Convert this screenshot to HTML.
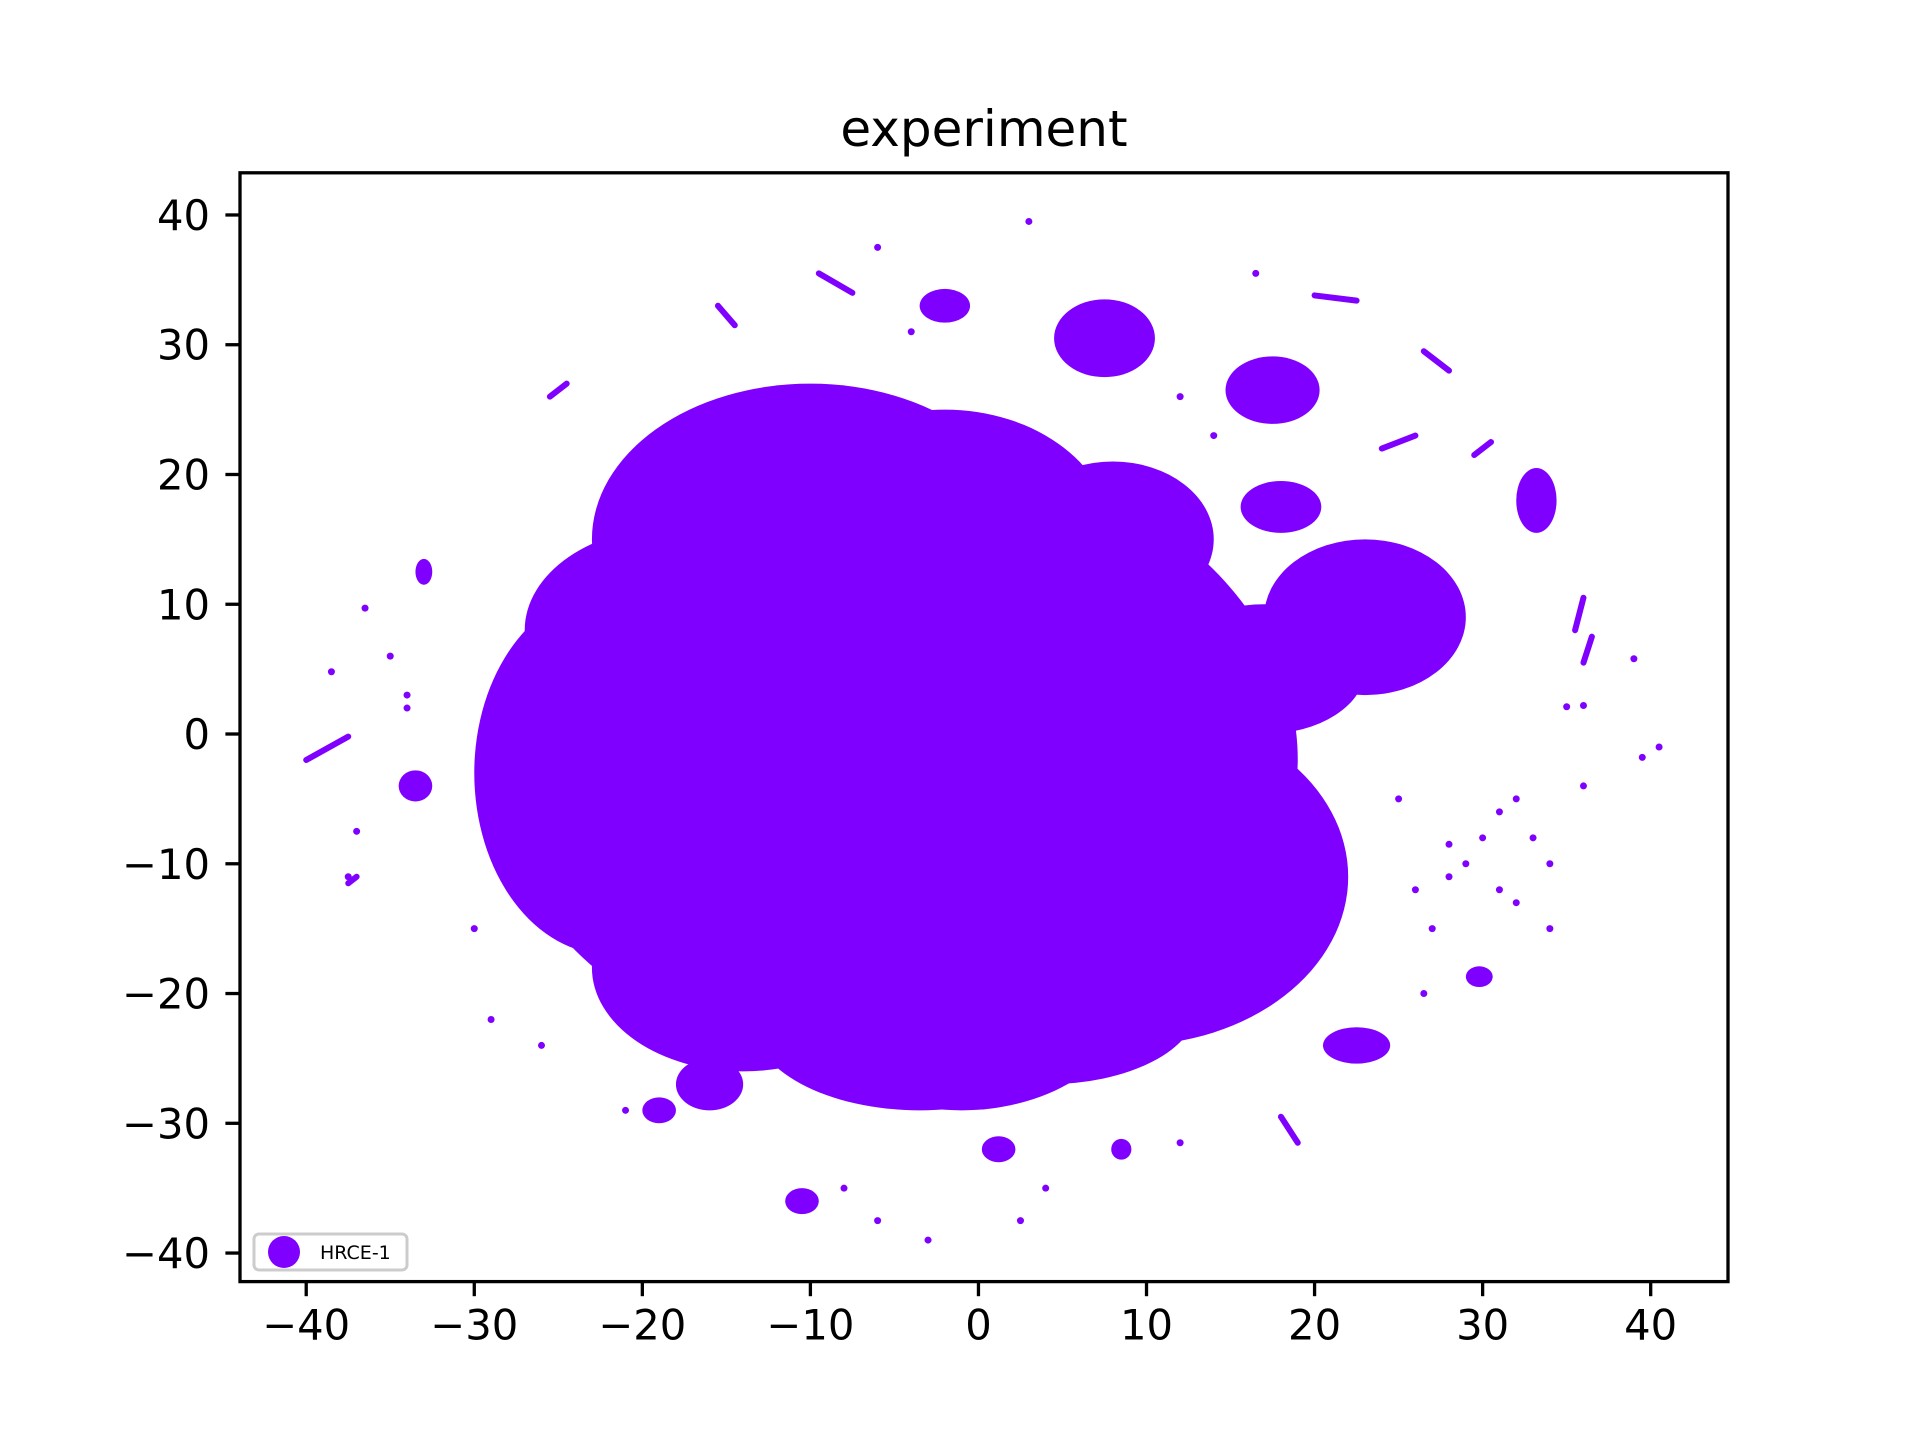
<!DOCTYPE html>
<html><head><meta charset="utf-8">
<style>
html,body{margin:0;padding:0;background:#fff;}
svg{display:block;font-family:"DejaVu Sans","Liberation Sans",sans-serif;}
</style></head>
<body>
<svg id="chart" width="1920" height="1440" viewBox="0 0 1920 1440" xmlns="http://www.w3.org/2000/svg">
<rect x="0" y="0" width="1920" height="1440" fill="#fff"/>
<text x="984" y="146" font-size="50" text-anchor="middle" fill="#000">experiment</text>
<g id="plot"></g>
<rect x="240" y="172.8" width="1488" height="1108.8" fill="none" stroke="#000" stroke-width="3.3"/>
<g id="ticks"></g>
<g>
<rect x="254" y="1234" width="153" height="36" rx="5" fill="#fff" stroke="#ccc" stroke-width="3"/>
<circle cx="284" cy="1252" r="16" fill="#8000ff"/>
<text x="320" y="1259" font-size="19" fill="#000">HRCE-1</text>
</g>
</svg>
<script>
// Blob regions of the embedding (data units)
const blobX  = [-5, -10, -2, 9, -1, 6, 8, 23, 17, -22, -18, 4, -14, 7.5, 17.5, 18, 33.2, -2, -16, -19, 22.5, 29.8, 1.2, -10.5, 8.5, -33.5, -33, -3.5, -6];
const blobY  = [-2, 15, 15, -11, -20, 4, 15, 9, 5, -3, 8, -21, -18, 30.5, 26.5, 17.5, 18, 33, -27, -29, -24, -18.7, -32, -36, -32, -4, 12.5, -22, 10];
const blobRX = [24, 13, 10, 13, 10, 9, 6, 6, 6, 8, 9, 9, 9, 3, 2.8, 2.4, 1.2, 1.5, 2, 1, 2, 0.8, 1, 1, 0.6, 1, 0.5, 10, 12];
const blobRY = [24, 12, 10, 13, 9, 10, 6, 6, 5, 14, 8, 6, 8, 3, 2.6, 2, 2.5, 1.3, 2, 1, 1.4, 0.8, 1, 1, 0.8, 1.2, 1, 7, 10];
// Thin trails (start/end points)
const trailX1 = [-40, -25.5, -15.5, -9.5, 20, 26.5, 30.5, 36, 36.5, 24, -37, 18];
const trailY1 = [-2, 26, 33, 35.5, 33.8, 29.5, 22.5, 10.5, 7.5, 22, -11, -29.5];
const trailX2 = [-37.5, -24.5, -14.5, -7.5, 22.5, 28, 29.5, 35.5, 36, 26, -37.5, 19];
const trailY2 = [-0.2, 27, 31.5, 34, 33.4, 28, 21.5, 8, 5.5, 23, -11.5, -31.5];
// Scattered outlier points
const ptX = [3, -6, -38.5, -36.5, -37, -37.5, 40.5, 39.5, 39, 36, 35, 32, 30, 28, 26, 27, 29, 31, 33, 34, 36, 31, 32, 28, 26.5, 25, 34, -29, -26, -21, -30, -34, 12, -8, -6, -3, 2.5, 4, -4, 12, 14, -35, -34, 16.5];
const ptY = [39.5, 37.5, 4.8, 9.7, -7.5, -11, -1, -1.8, 5.8, 2.2, 2.1, -5, -8, -8.5, -12, -15, -10, -12, -8, -10, -4, -6, -13, -11, -20, -5, -15, -22, -24, -29, -15, 2, -31.5, -35, -37.5, -39, -37.5, -35, 31, 26, 23, 6, 3, 35.5];

const X0=-43.94, X1=44.6, Y0=-42.2, Y1=43.25;
const L=240, R=1728, T=172.8, B=1281.6;
function sx(v){return L+(v-X0)/(X1-X0)*(R-L);}
function sy(v){return B-(v-Y0)/(Y1-Y0)*(B-T);}
const kx=(R-L)/(X1-X0), ky=(B-T)/(Y1-Y0);
const NS="http://www.w3.org/2000/svg";
const plot=document.getElementById('plot');
const C="#8000ff";
for(let i=0;i<blobX.length;i++){
  const e=document.createElementNS(NS,'ellipse');
  
  
  e.setAttribute('cx',sx(blobX[i]));e.setAttribute('cy',sy(blobY[i]));
  e.setAttribute('rx',blobRX[i]*kx);e.setAttribute('ry',blobRY[i]*ky);
  e.setAttribute('fill',C);plot.appendChild(e);
}
for(let i=0;i<trailX1.length;i++){
  const l=document.createElementNS(NS,'line');
  
  
  l.setAttribute('x1',sx(trailX1[i]));l.setAttribute('y1',sy(trailY1[i]));
  l.setAttribute('x2',sx(trailX2[i]));l.setAttribute('y2',sy(trailY2[i]));
  l.setAttribute('stroke',C);l.setAttribute('stroke-width',6);l.setAttribute('stroke-linecap','round');
  plot.appendChild(l);
}
for(let i=0;i<ptX.length;i++){
  const c=document.createElementNS(NS,'circle');
  
  
  c.setAttribute('cx',sx(ptX[i]));c.setAttribute('cy',sy(ptY[i]));c.setAttribute('r',3.5);
  c.setAttribute('fill',C);plot.appendChild(c);
}
const xTicks=[-40,-30,-20,-10,0,10,20,30,40];
const yTicks=[-40,-30,-20,-10,0,10,20,30,40];
const tg=document.getElementById('ticks');
function lab(v){return v<0?'\u2212'+Math.abs(v):String(v);}
xTicks.forEach(v=>{
  const l=document.createElementNS(NS,'line');
  
  
  l.setAttribute('x1',sx(v));l.setAttribute('x2',sx(v));l.setAttribute('y1',B);l.setAttribute('y2',B+14.6);
  l.setAttribute('stroke','#000');l.setAttribute('stroke-width',3.3);tg.appendChild(l);
  const t=document.createElementNS(NS,'text');
  
  
  t.setAttribute('x',sx(v));t.setAttribute('y',B+58);t.setAttribute('font-size',41.7);
  t.setAttribute('text-anchor','middle');t.textContent=lab(v);tg.appendChild(t);
});
yTicks.forEach(v=>{
  const l=document.createElementNS(NS,'line');
  
  
  l.setAttribute('y1',sy(v));l.setAttribute('y2',sy(v));l.setAttribute('x1',L);l.setAttribute('x2',L-14.6);
  l.setAttribute('stroke','#000');l.setAttribute('stroke-width',3.3);tg.appendChild(l);
  const t=document.createElementNS(NS,'text');
  
  
  t.setAttribute('x',L-30);t.setAttribute('y',sy(v)+15);t.setAttribute('font-size',41.7);
  t.setAttribute('text-anchor','end');t.textContent=lab(v);tg.appendChild(t);
});
</script>
</body></html>
